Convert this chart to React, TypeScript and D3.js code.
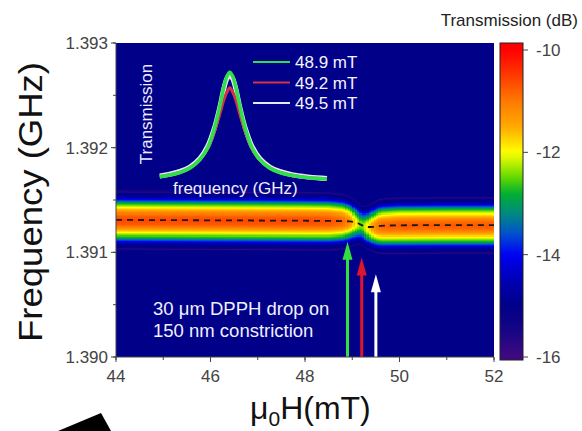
import { useEffect, useRef } from "react";
import * as d3 from "d3";

const W = 582;
const H = 431;
const FONT = "'Liberation Sans', Arial, Helvetica, sans-serif";

// band fit across the field sweep
const fields = [44, 45, 46, 47, 48, 48.5, 48.8, 48.95, 49.1, 49.2, 49.3, 49.45, 49.6, 50, 51, 52];
const centers = [1.39131, 1.391308, 1.391306, 1.391304, 1.391302, 1.3913, 1.391298, 1.391295, 1.391282, 1.39126, 1.391242, 1.391244, 1.391252, 1.391258, 1.39126, 1.39126];
const amps = [1, 1, 1, 1, 1, 0.99, 0.95, 0.86, 0.68, 0.58, 0.68, 0.86, 0.95, 0.97, 0.97, 0.97];
const widths = [1, 1, 1, 1, 1, 1, 0.95, 0.86, 0.72, 0.65, 0.72, 0.86, 0.95, 0.97, 0.97, 0.97];

// cross-section of the band: offset from centre (x10 kHz) -> dB
const profOffset = [0, 4, 7, 10, 12, 14, 16, 18, 20, 22, 24, 26.3, 27.5, 28.7, 31, 80];
const profDb = [-10.6, -10.75, -11.1, -11.6, -12.0, -12.4, -12.8, -13.4, -14.0, -14.6, -15.0, -15.1, -15.75, -15.1, -15.0, -15.0];
const bgDb = -15.0;

// colour map of the colour bar
const cmapDb = [-16, -15.5, -15.0, -14.5, -14.0, -13.6, -13.2, -12.8, -12.5, -12.2, -12.0, -11.5, -11.0, -10.5, -10.0];
const cmapColor = ["#400a80", "#180586", "#000088", "#0000b4", "#0000f4", "#0050d0", "#008a80", "#00b030", "#60d800", "#c0f000", "#ffff00", "#ffa800", "#ff7a00", "#ff3a00", "#ff0000"];
const cbarTicks = [-10, -12, -14, -16];

// inset: transmission traces at three fields
const insetFreq = [1.38954, 1.38977, 1.39001, 1.39024, 1.39047, 1.39066, 1.39082, 1.39094, 1.39103, 1.3911, 1.39117, 1.39124, 1.39131, 1.3914, 1.39152, 1.39168, 1.39187, 1.3921, 1.39233, 1.39257, 1.3928, 1.39303, 1.39343];
const insetGreen = [0.043, 0.058, 0.081, 0.12, 0.196, 0.31, 0.49, 0.68, 0.845, 0.94, 0.98, 0.94, 0.845, 0.68, 0.49, 0.31, 0.196, 0.12, 0.081, 0.058, 0.043, 0.033, 0.023];
const insetRed = [0.045, 0.06, 0.083, 0.122, 0.195, 0.3, 0.46, 0.61, 0.73, 0.8, 0.84, 0.8, 0.73, 0.61, 0.46, 0.3, 0.195, 0.122, 0.083, 0.06, 0.045, 0.034, 0.024];
const insetWhite = [0.05, 0.065, 0.09, 0.13, 0.205, 0.32, 0.49, 0.67, 0.83, 0.92, 0.955, 0.92, 0.83, 0.67, 0.49, 0.32, 0.205, 0.13, 0.09, 0.065, 0.05, 0.038, 0.027];
const legendLabels = ["48.9 mT", "49.2 mT", "49.5 mT"];
const legendColors = ["#2ee04a", "#d83048", "#e8e8f8"];

// arrows marking the three fields
const arrowFields = [48.9, 49.2, 49.5];
const arrowTips = [1.3911, 1.39095, 1.39079];
const arrowColors = ["#30e040", "#e0142c", "#ffffff"];

const x = d3.scaleLinear().domain([44, 52]).range([116, 494]);
const y = d3.scaleLinear().domain([1.39, 1.393]).range([357, 43]);
const cScale = d3.scaleLinear().domain([-16, -10]).range([357, 50]);
const cmap = d3.scaleLinear<string>().domain(cmapDb).range(cmapColor).interpolate(d3.interpolateRgb).clamp(true);

const ix = d3.scaleLinear().domain([1.3895, 1.3935]).range([158, 330]);
const iy = d3.scaleLinear().domain([0, 1]).range([181.5, 70]);

export default function App() {
  const heatRef = useRef<SVGGElement>(null);

  useEffect(() => {
    const g = d3.select(heatRef.current);
    g.selectAll("*").remove();
    const centerAt = d3.scaleLinear().domain(fields).range(centers);
    const ampAt = d3.scaleLinear().domain(fields).range(amps);
    const widthAt = d3.scaleLinear().domain(fields).range(widths);
    const profile = d3.scaleLinear().domain(profOffset).range(profDb).clamp(true);

    const fStep = 0.05;
    const nuStep = 0.00001;
    const cols = d3.range(44 + fStep / 2, 52, fStep);
    const rows = d3.range(1.3906, 1.392, nuStep);
    const cells: { h: number; nu: number; v: number }[] = [];
    cols.forEach((h) => {
      const c = centerAt(h), a = ampAt(h), w = widthAt(h);
      rows.forEach((nu) => {
        const off = Math.abs(nu - c) / 1e-5 / w;
        const v = bgDb + (profile(off) - bgDb) * a;
        if (Math.abs(v - bgDb) > 0.02) cells.push({ h, nu, v });
      });
    });
    const cw = x(fStep) - x(0);
    const rh = y(0) - y(nuStep);
    g.selectAll("rect")
      .data(cells)
      .join("rect")
      .attr("x", (d) => x(d.h) - cw / 2)
      .attr("y", (d) => y(d.nu) - rh / 2)
      .attr("width", cw + 0.4)
      .attr("height", rh + 0.4)
      .attr("fill", (d) => cmap(d.v));
  }, []);

  const fitLine = d3.line<number>().x((_, i) => x(fields[i])).y((d) => y(d)).curve(d3.curveMonotoneX)(centers) || "";
  const insetLine = (vals: number[]) =>
    d3.line<number>().x((_, i) => ix(insetFreq[i])).y((d) => iy(d)).curve(d3.curveCatmullRom)(vals) || "";

  const cTop = 43, cBot = 360;
  const gradStops = d3.range(0, 1.0001, 0.02).map((t) => {
    const py = cTop + t * (cBot - cTop);
    return { t, col: cmap(cScale.invert(py)) };
  });

  return (
    <svg width={W} height={H} style={{ position: "absolute", left: 0, top: 0, background: "#fff" }} fontFamily={FONT}>
      <defs>
        <clipPath id="plotClip">
          <rect x={116} y={43} width={378} height={314} />
        </clipPath>
        <linearGradient id="cbar" x1="0" y1="0" x2="0" y2="1">
          {gradStops.map((s, i) => (
            <stop key={i} offset={s.t} stopColor={s.col} />
          ))}
        </linearGradient>
      </defs>

      {/* heat map */}
      <rect x={116} y={43} width={378} height={314} fill={cmap(bgDb)} />
      <g ref={heatRef} clipPath="url(#plotClip)" shapeRendering="crispEdges" />
      <path d={fitLine} fill="none" stroke="#1a1a1a" strokeWidth={1.8} strokeDasharray="6,5" clipPath="url(#plotClip)" />

      {/* inset */}
      <path d={insetLine(insetWhite)} fill="none" stroke={legendColors[2]} strokeWidth={5} />
      <path d={insetLine(insetRed)} fill="none" stroke={legendColors[1]} strokeWidth={3} />
      <path d={insetLine(insetGreen)} fill="none" stroke={legendColors[0]} strokeWidth={3.6} />
      <text transform="translate(152,114) rotate(-90)" textAnchor="middle" fontSize={17} fill="#eef">Transmission</text>
      <text x={173} y={194} fontSize={17} fill="#eef">frequency (GHz)</text>
      {legendLabels.map((l, i) => {
        const ly = 62 + i * 20.5;
        return (
          <g key={l}>
            <line x1={253} x2={290} y1={ly} y2={ly} stroke={legendColors[i]} strokeWidth={2} />
            <text x={295} y={ly + 6} fontSize={17} fill="#f4f4ff">{l}</text>
          </g>
        );
      })}

      {/* arrows */}
      {arrowFields.map((f, i) => {
        const ax = x(f);
        const ty = y(arrowTips[i]);
        return (
          <g key={f}>
            <line x1={ax} x2={ax} y1={357} y2={ty + 14} stroke={arrowColors[i]} strokeWidth={3} />
            <path d={`M${ax},${ty} L${ax - 5},${ty + 18} L${ax + 5},${ty + 18} Z`} fill={arrowColors[i]} />
          </g>
        );
      })}

      <text fontSize={18.5} fill="#f0f0ff">
        <tspan x={153} y={315}>30 μm DPPH drop on</tspan>
        <tspan x={153} y={337}>150 nm constriction</tspan>
      </text>

      {/* axes */}
      <line x1={116} x2={116} y1={43} y2={357.5} stroke="#444" />
      <line x1={115.5} x2={494} y1={357} y2={357} stroke="#444" />
      {y.ticks(6).map((t) => (
        <line key={"ym" + t} x1={116} x2={113} y1={y(t)} y2={y(t)} stroke="#444" />
      ))}
      {y.ticks(3).map((t) => (
        <g key={"y" + t}>
          <line x1={116} x2={111} y1={y(t)} y2={y(t)} stroke="#444" />
          <text x={108} y={y(t) + 6} textAnchor="end" fontSize={17} fill="#444">{d3.format(".3f")(t)}</text>
        </g>
      ))}
      {x.ticks(8).map((t) => (
        <line key={"xm" + t} x1={x(t)} x2={x(t)} y1={357} y2={360} stroke="#444" />
      ))}
      {x.ticks(4).map((t) => (
        <g key={"x" + t}>
          <line x1={x(t)} x2={x(t)} y1={357} y2={362} stroke="#444" />
          <text x={x(t)} y={382} textAnchor="middle" fontSize={17} fill="#444">{t}</text>
        </g>
      ))}

      <text transform="translate(42,202) rotate(-90)" textAnchor="middle" fontSize={33} fill="#111" textLength={280} lengthAdjust="spacingAndGlyphs">
        Frequency (GHz)
      </text>
      <text x={250} y={419} fontSize={32} fill="#111">
        μ<tspan fontSize={21} dy={7}>0</tspan>
        <tspan dy={-7}>H(mT)</tspan>
      </text>

      {/* colour bar */}
      <rect x={500} y={cTop} width={23} height={cBot - cTop} fill="url(#cbar)" stroke="#222" strokeWidth={1} />
      {cbarTicks.map((t) => (
        <g key={"c" + t}>
          <line x1={523} x2={528} y1={cScale(t)} y2={cScale(t)} stroke="#444" />
          <text x={536} y={cScale(t) + 6} fontSize={17} fill="#444">{t}</text>
        </g>
      ))}
      <text x={578} y={26} textAnchor="end" fontSize={17} fill="#222">Transmission (dB)</text>

      {/* black fragment at the lower left */}
      <polygon points="58,431 101,413 111,431" fill="#000" />
    </svg>
  );
}
